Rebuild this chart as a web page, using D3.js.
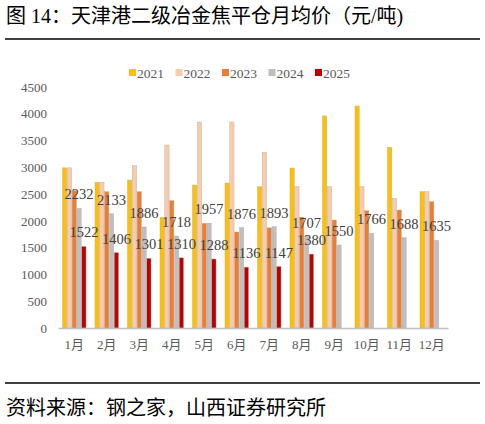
<!DOCTYPE html>
<html>
<head>
<meta charset="utf-8">
<script src="https://cdn.jsdelivr.net/npm/d3@7"></script>
<style>
    body { margin: 0; background: #fff; }
    svg { display: block; }
</style>
</head>
<body>
<div id="chart"></div>
<script>
var months = ["1月", "2月", "3月", "4月", "5月", "6月", "7月", "8月", "9月", "10月", "11月", "12月"]
var years = ["2021", "2022", "2023", "2024", "2025"]
var v2021 = [2990, 2720, 2763, 2067, 2670, 2707, 2638, 2987, 3960, 4145, 3374, 2545]
var v2022 = [2990, 2720, 3030, 3417, 3845, 3845, 3280, 2638, 2638, 2638, 2422, 2545]
var v2023 = [2563, 2545, 2545, 2377, 1955, 1792, 1870, 2070, 2016, 2190, 2203, 2358]
var v2024 = [2232, 2133, 1886, 1718, 1957, 1876, 1893, 1707, 1550, 1766, 1688, 1635]
var v2025 = [1522, 1406, 1301, 1310, 1288, 1136, 1147, 1380, null, null, null, null]
var yTicks = [0, 500, 1000, 1500, 2000, 2500, 3000, 3500, 4000, 4500]
var labelled = ["2024", "2025"]

function init() {
    var w = 485
    var h = 424
    var colors = {"2021": "#FFC000", "2022": "#F8CBAD", "2023": "#ED7D31", "2024": "#BFBFBF", "2025": "#C00000"}
    var series = {"2021": v2021, "2022": v2022, "2023": v2023, "2024": v2024, "2025": v2025}
    var serif = "'Liberation Serif', 'Noto Sans CJK SC', serif"
    var cjk = "'Liberation Serif', 'Noto Sans CJK SC', sans-serif"

    var data = months.map((m, i) => {
        return {month: m, values: years.map(y => ({year: y, value: series[y][i]}))}
    })

    var svg = d3.select("#chart")
                .append("svg")
                .attr("width", w)
                .attr("height", h)

    // title and rules
    svg.append("text")
        .text("图 14：天津港二级冶金焦平仓月均价（元/吨)")
        .attr("x", 6)
        .attr("y", 23)
        .style("font-family", cjk)
        .style("font-size", "20px")
        .attr("fill", "#000")
    svg.append("line").attr("x1", 5).attr("x2", 480).attr("y1", 39).attr("y2", 39)
        .attr("stroke", "#000").attr("stroke-width", 1.3)
    svg.append("line").attr("x1", 5).attr("x2", 480).attr("y1", 383).attr("y2", 383)
        .attr("stroke", "#000").attr("stroke-width", 1.3)
    svg.append("text")
        .text("资料来源：钢之家，山西证券研究所")
        .attr("x", 6)
        .attr("y", 415)
        .style("font-family", cjk)
        .style("font-size", "20px")
        .attr("fill", "#000")

    var x0 = d3.scaleBand().domain(months).range([58, 448]).paddingInner(0.24).paddingOuter(0.12)
    var x1 = d3.scaleBand().domain(years).range([0, x0.bandwidth()]).padding(0.12)
    var y = d3.scaleLinear().domain([0, 4500]).range([328, 87])

    // y axis
    var yAxis = svg.append("g")
        .attr("transform", "translate(52,0)")
        .call(d3.axisLeft(y).tickValues(yTicks).tickFormat(d3.format("d")).tickSize(0).tickPadding(5))
    yAxis.select(".domain").remove()
    yAxis.selectAll("text")
        .style("font-family", serif)
        .style("font-size", "13px")
        .attr("fill", "#595959")

    // bars
    var groups = svg.selectAll("g.month")
        .data(data)
        .enter()
        .append("g")
        .attr("class", "month")
        .attr("transform", d => `translate(${x0(d.month)},0)`)

    groups.selectAll("rect")
        .data(d => d.values.filter(v => v.value != null))
        .enter()
        .append("rect")
        .attr("x", d => x1(d.year))
        .attr("y", d => y(d.value))
        .attr("width", x1.bandwidth())
        .attr("height", d => y(0) - y(d.value))
        .attr("fill", d => colors[d.year])
        .attr("stroke", "#b0a89f")
        .attr("stroke-width", 0.4)

    // x axis
    var xAxis = svg.append("g")
        .attr("transform", "translate(0,328)")
        .call(d3.axisBottom(x0).tickSize(0).tickPadding(12))
    xAxis.select(".domain")
        .attr("stroke", "#BFBFBF")
        .attr("stroke-width", 1.5)
    xAxis.selectAll("text")
        .style("font-family", serif)
        .style("font-size", "13px")
        .attr("fill", "#595959")

    // data labels on 2024 / 2025
    svg.append("g")
        .selectAll("text")
        .data(data.flatMap(d => d.values.filter(v => labelled.includes(v.year) && v.value != null)
                                        .map(v => ({month: d.month, year: v.year, value: v.value}))))
        .enter()
        .append("text")
        .text(d => d.value)
        .attr("x", d => x0(d.month) + x1(d.year) + x1.bandwidth() / 2)
        .attr("y", d => y(d.value) - 9)
        .attr("text-anchor", "middle")
        .style("font-family", serif)
        .style("font-size", "14.5px")
        .attr("fill", "#404040")

    // legend
    var legend = svg.append("g")
        .selectAll("g")
        .data(years)
        .enter()
        .append("g")
        .attr("transform", (d, i) => `translate(${129 + i * 46.5},73)`)
    legend.append("rect")
        .attr("x", 0)
        .attr("y", -4)
        .attr("width", 7)
        .attr("height", 7)
        .attr("fill", d => colors[d])
    legend.append("text")
        .text(d => d)
        .attr("x", 8)
        .attr("y", 4.5)
        .style("font-family", serif)
        .style("font-size", "13.5px")
        .attr("fill", "#595959")
}

window.onload = init;
</script>
</body>
</html>
